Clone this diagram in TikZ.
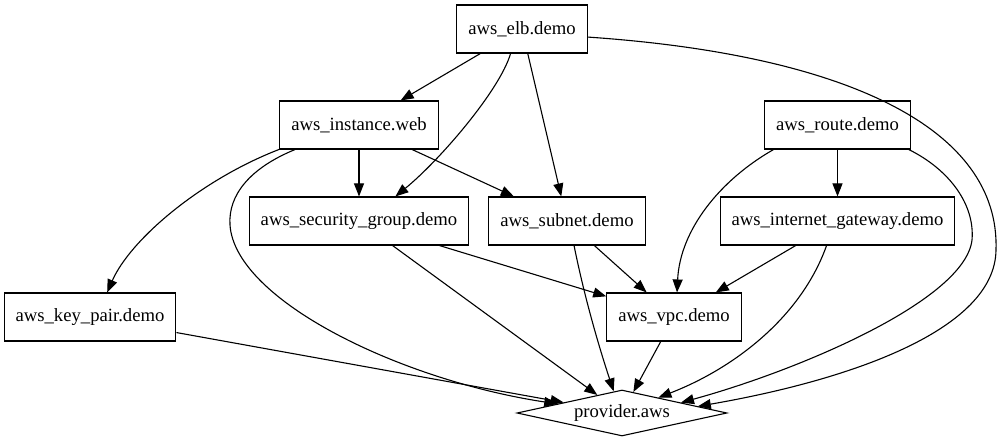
\documentclass[tikz,border=0pt]{standalone}
\usepackage{fontspec}
\setmainfont{Liberation Serif}
\usepackage{tikz}
\usetikzlibrary{shapes.geometric,arrows.meta}

\tikzset{
  res/.style={
    draw=black,
    line width=1.1pt,
    rectangle,
    minimum height=48pt,
    inner xsep=11.5pt,
    inner ysep=0pt,
    font=\fontsize{18.67}{22}\selectfont
  },
  prov/.style={
    draw=black,
    line width=1.1pt,
    diamond,
    aspect=4.57,
    minimum width=210pt,
    minimum height=46pt,
    inner sep=0pt,
    font=\fontsize{18.67}{22}\selectfont
  },
  dep/.style={
    draw=black,
    line width=1.1pt,
    -{Triangle[length=13pt,width=10pt]}
  }
}

\begin{document}
\begin{tikzpicture}[x=1pt,y=-1pt]
    \useasboundingbox (0,0) rectangle (1001,443);

    % resources, one row per rank
    \node[res] (elb) at (522,29) {aws\_elb.demo};
    \node[res] (instance) at (359,125) {aws\_instance.web};
    \node[res] (route) at (837.5,125) {aws\_route.demo};
    \node[res] (sg) at (359,221) {aws\_security\_group.demo};
    \node[res] (subnet) at (567,221) {aws\_subnet.demo};
    \node[res] (igw) at (837.5,221) {aws\_internet\_gateway.demo};
    \node[res] (keypair) at (90,317) {aws\_key\_pair.demo};
    \node[res] (vpc) at (674,317) {aws\_vpc.demo};
    \node[prov] (provider) at (622,413) {provider.aws};

    % straight dependencies
    \draw[dep] (elb) -- (instance);
    \draw[dep] (elb) -- (subnet);
    \draw[dep] (instance) -- (sg);
    \draw[dep] (instance) -- (subnet);
    \draw[dep] (route) -- (igw);
    \draw[dep] (sg) -- (vpc);
    \draw[dep] (sg) -- (provider);
    \draw[dep] (subnet) -- (vpc);
    \draw[dep] (igw) -- (vpc);
    \draw[dep] (keypair) -- (provider);
    \draw[dep] (vpc) -- (provider);

    % curved dependencies
    \draw[dep] (elb.-115) .. controls (500,90) and (440,160) .. (sg.34);
    \draw[dep] (elb.-7) .. controls (850,55) and (1000,130) .. (996,250)
      .. controls (995,330) and (850,380) .. (provider.5);
    \draw[dep] (route.-159) .. controls (720,180) and (680,230) .. (vpc.83);
    \draw[dep] (route.-19) .. controls (950,170) and (975,205) .. (972,240)
      .. controls (965,300) and (800,370) .. (provider.10);
    \draw[dep] (instance.-163) .. controls (200,180) and (130,240) .. (keypair.55);
    \draw[dep] (instance.-159) .. controls (250,168) and (228,195) .. (230,225)
      .. controls (235,300) and (400,380) .. (provider.172);
    \draw[dep] (subnet.-74) .. controls (585,300) and (600,350) .. (provider.111);
    \draw[dep] (igw.-114) .. controls (800,320) and (730,370) .. (provider.23);
\end{tikzpicture}
\end{document}
